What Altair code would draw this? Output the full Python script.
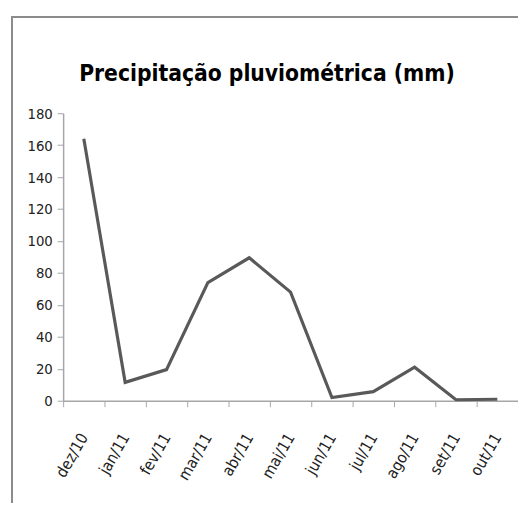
import altair as alt
import pandas as pd

months = ["dez/10", "jan/11", "fev/11", "mar/11", "abr/11", "mai/11",
          "jun/11", "jul/11", "ago/11", "set/11", "out/11"]
precip = [164, 11.5, 19.5, 74, 89.5, 68, 2, 5.7, 21, 0.6, 0.9]
title_text = ["Precipitação pluviométrica (mm)"]

df = pd.DataFrame({"mes": months, "mm": precip})
FONT = "DejaVu Sans Condensed, Liberation Sans Narrow, Open Sans, sans-serif"

line = alt.Chart(df).mark_line(color="#595959", strokeWidth=3.2).encode(
    x=alt.X("mes:N", sort=months, title=None,
            scale=alt.Scale(paddingInner=0, paddingOuter=0),
            axis=alt.Axis(labelAngle=-60, labelAlign="right", labelBaseline="middle",
                          labelPadding=28, labelFontSize=16, labelFont=FONT,
                          labelColor="#222222", tickBand="extent", tickSize=6,
                          tickColor="#a6a6a6", domainColor="#a6a6a6", domainWidth=1.5)),
    y=alt.Y("mm:Q", title=None,
            scale=alt.Scale(domain=[0, 180], nice=False),
            axis=alt.Axis(values=list(range(0, 181, 20)), grid=False,
                          labelFontSize=15, labelFont=FONT, labelColor="#222222",
                          tickSize=6, tickColor="#a6a6a6", domainColor="#a6a6a6",
                          domainWidth=1.5, labelPadding=5)),
)

frame = alt.Chart(df).mark_rect(fill=None, stroke="#8c8c8c", strokeWidth=1.5).encode(
    x=alt.value(-52), x2=alt.value(480), y=alt.value(-98), y2=alt.value(420)
)

title = alt.Chart(pd.DataFrame({"t": title_text})).mark_text(
    font=FONT, fontSize=23, fontWeight="bold", color="#000000",
    align="center", baseline="alphabetic"
).encode(text="t:N", x=alt.value(207), y=alt.value(-33))

chart = alt.layer(frame, line, title).properties(
    width=462, height=292,
    autosize="none",
    padding={"left": 56, "top": 103, "right": 0, "bottom": 100},
).configure_view(stroke=None)

chart.save("out.html", embed_options={"renderer": "svg", "actions": False})
